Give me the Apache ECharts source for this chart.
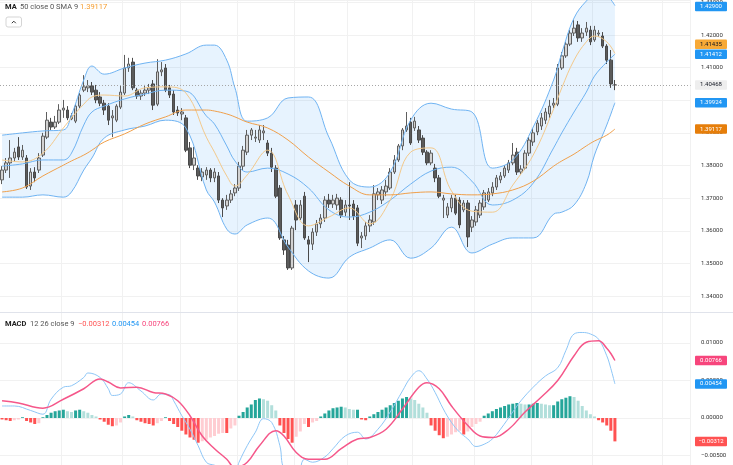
<!DOCTYPE html>
<html>
<head>
<meta charset="utf-8">
<script src="https://cdn.jsdelivr.net/npm/echarts@6.0.0/dist/echarts.min.js"></script>
<style>
html,body{margin:0;padding:0;background:#ffffff;}
#chart{width:733px;height:465px;}
</style>
</head>
<body>
<div id="chart"></div>
<script>
// ---------- data ----------
const slotCount = 169;
const slots = Array.from({length: slotCount}, (_, i) => String(i));
const timeGridSlots = [15, 30, 44, 58, 72, 85, 101, 116, 130, 145, 162];

// [open, close, low, high]
const candles = [
[1.3756,1.3786,1.3743,1.3798],[1.3786,1.3808,1.3777,1.3823],[1.3808,1.3823,1.3762,1.3878],[1.3823,1.3841,1.3811,1.3854],
[1.3857,1.3826,1.3817,1.3887],[1.3826,1.3847,1.3817,1.3863],[1.3823,1.3734,1.3728,1.3832],[1.3737,1.3780,1.3725,1.3792],
[1.3780,1.3762,1.3749,1.3795],[1.3786,1.3823,1.3777,1.3838],[1.3832,1.3890,1.3826,1.3900],[1.3887,1.3939,1.3881,1.3964],
[1.3933,1.3918,1.3909,1.3946],[1.3918,1.3933,1.3912,1.3952],[1.3933,1.3970,1.3927,1.3988],[1.3970,1.3976,1.3946,1.4001],
[1.3970,1.3946,1.3939,1.3982],[1.3943,1.3952,1.3939,1.3961],[1.3936,1.3982,1.3930,1.3988],[1.3982,1.4016,1.3976,1.4022],
[1.4031,1.4041,1.4025,1.4077],[1.4038,1.4044,1.4025,1.4062],[1.4044,1.4025,1.4016,1.4056],[1.4031,1.4001,1.3991,1.4047],
[1.4010,1.3991,1.3982,1.4025],[1.3991,1.3970,1.3955,1.4001],[1.3982,1.3939,1.3924,1.3991],[1.3946,1.3952,1.3887,1.3970],
[1.3939,1.3982,1.3933,1.3988],[1.3979,1.4025,1.3973,1.4044],[1.4022,1.4099,1.4016,1.4139],[1.4099,1.4111,1.4087,1.4130],
[1.4117,1.4038,1.4031,1.4130],[1.4031,1.4013,1.4004,1.4038],[1.4013,1.4022,1.4001,1.4031],[1.4022,1.4031,1.4013,1.4047],
[1.4031,1.4038,1.4019,1.4050],[1.4050,1.3985,1.3970,1.4062],[1.3988,1.4087,1.3982,1.4126],[1.4087,1.4093,1.4074,1.4117],
[1.4099,1.4031,1.4025,1.4111],[1.4038,1.4016,1.4007,1.4047],[1.4019,1.3964,1.3955,1.4031],[1.3970,1.3961,1.3952,1.3982],
[1.3958,1.3964,1.3939,1.3976],[1.3946,1.3847,1.3841,1.3955],[1.3854,1.3801,1.3792,1.3872],[1.3801,1.3823,1.3786,1.3857],
[1.3792,1.3768,1.3756,1.3801],[1.3765,1.3780,1.3752,1.3792],[1.3771,1.3786,1.3756,1.3795],[1.3786,1.3762,1.3749,1.3792],
[1.3762,1.3780,1.3749,1.3792],[1.3768,1.3694,1.3685,1.3780],[1.3694,1.3670,1.3642,1.3700],[1.3676,1.3694,1.3664,1.3710],
[1.3694,1.3713,1.3685,1.3725],[1.3716,1.3731,1.3706,1.3743],[1.3731,1.3798,1.3722,1.3811],[1.3798,1.3847,1.3786,1.3860],
[1.3841,1.3893,1.3832,1.3909],[1.3893,1.3909,1.3878,1.3915],[1.3884,1.3887,1.3872,1.3909],[1.3878,1.3909,1.3869,1.3924],
[1.3900,1.3906,1.3878,1.3924],[1.3869,1.3838,1.3829,1.3878],[1.3838,1.3795,1.3780,1.3854],[1.3792,1.3706,1.3700,1.3801],
[1.3731,1.3578,1.3572,1.3740],[1.3572,1.3541,1.3526,1.3584],[1.3556,1.3486,1.3480,1.3572],[1.3486,1.3608,1.3480,1.3615],
[1.3679,1.3633,1.3602,1.3694],[1.3639,1.3679,1.3633,1.3694],[1.3706,1.3578,1.3572,1.3719],[1.3572,1.3559,1.3504,1.3584],
[1.3559,1.3596,1.3541,1.3608],[1.3596,1.3621,1.3584,1.3633],[1.3621,1.3639,1.3608,1.3651],[1.3639,1.3694,1.3627,1.3706],
[1.3694,1.3682,1.3670,1.3713],[1.3682,1.3694,1.3670,1.3710],[1.3679,1.3700,1.3664,1.3713],[1.3694,1.3648,1.3639,1.3703],
[1.3657,1.3679,1.3645,1.3694],[1.3679,1.3676,1.3633,1.3749],[1.3682,1.3645,1.3633,1.3694],[1.3670,1.3562,1.3553,1.3679],
[1.3578,1.3584,1.3547,1.3596],[1.3584,1.3615,1.3572,1.3627],[1.3615,1.3633,1.3596,1.3648],[1.3627,1.3713,1.3618,1.3740],
[1.3710,1.3719,1.3694,1.3731],[1.3694,1.3725,1.3682,1.3737],[1.3719,1.3737,1.3706,1.3756],[1.3731,1.3780,1.3725,1.3792],
[1.3780,1.3817,1.3774,1.3832],[1.3817,1.3860,1.3811,1.3866],[1.3860,1.3909,1.3847,1.3915],[1.3909,1.3921,1.3903,1.3964],
[1.3933,1.3869,1.3863,1.3946],[1.3915,1.3936,1.3906,1.3949],[1.3909,1.3878,1.3869,1.3921],[1.3884,1.3841,1.3832,1.3893],
[1.3841,1.3808,1.3801,1.3847],[1.3808,1.3838,1.3801,1.3847],[1.3792,1.3762,1.3749,1.3805],[1.3762,1.3706,1.3700,1.3771],
[1.3694,1.3700,1.3639,1.3710],[1.3648,1.3673,1.3639,1.3685],[1.3670,1.3700,1.3657,1.3710],[1.3700,1.3654,1.3648,1.3710],
[1.3694,1.3618,1.3608,1.3703],[1.3664,1.3685,1.3657,1.3694],[1.3685,1.3581,1.3550,1.3694],[1.3611,1.3633,1.3596,1.3645],
[1.3627,1.3664,1.3615,1.3676],[1.3648,1.3685,1.3639,1.3694],[1.3673,1.3716,1.3664,1.3725],[1.3694,1.3719,1.3688,1.3731],
[1.3716,1.3734,1.3706,1.3749],[1.3734,1.3762,1.3725,1.3771],[1.3756,1.3768,1.3746,1.3780],[1.3768,1.3792,1.3762,1.3801],
[1.3786,1.3808,1.3777,1.3817],[1.3808,1.3832,1.3801,1.3869],[1.3841,1.3780,1.3771,1.3854],[1.3780,1.3789,1.3774,1.3801],
[1.3792,1.3838,1.3786,1.3847],[1.3838,1.3878,1.3829,1.3887],[1.3872,1.3900,1.3860,1.3915],[1.3903,1.3930,1.3893,1.3939],
[1.3921,1.3946,1.3909,1.3961],[1.3939,1.3964,1.3927,1.3976],[1.3958,1.3982,1.3946,1.4001],[1.3985,1.3991,1.3976,1.4007],
[1.3988,1.4099,1.3982,1.4111],[1.4099,1.4136,1.4093,1.4148],[1.4136,1.4172,1.4130,1.4179],[1.4172,1.4206,1.4166,1.4215],
[1.4206,1.4221,1.4197,1.4246],[1.4231,1.4191,1.4179,1.4243],[1.4191,1.4206,1.4179,1.4221],[1.4209,1.4221,1.4197,1.4240],
[1.4215,1.4179,1.4169,1.4228],[1.4185,1.4215,1.4179,1.4228],[1.4203,1.4206,1.4194,1.4215],[1.4197,1.4166,1.4160,1.4209],
[1.4166,1.4123,1.4111,1.4172],[1.4123,1.4050,1.4038,1.4154],[1.4047,1.40468,1.4031,1.4062]
];

// indicator samples (bar index -> value)
const lineIdx  = [0,5,10,15,17,20,22,25,30,35,40,45,50,52,55,57,60,65,70,75,80,85,90,95,100,105,110,115,120,125,130,135,137,140,143,145,148,150];
const bbUpper  = [1.3893,1.3900,1.3906,1.3909,1.3955,1.4062,1.4105,1.4080,1.4099,1.4114,1.4123,1.4142,1.4169,1.4169,1.4123,1.4038,1.3936,1.3946,1.4007,1.4010,1.3887,1.3756,1.3734,1.3780,1.3939,1.3991,1.3973,1.3964,1.3792,1.3817,1.3918,1.4062,1.4145,1.4252,1.4304,1.4320,1.4317,1.42900];
const bbMiddle = [1.3798,1.3805,1.3817,1.3817,1.3838,1.3924,1.3964,1.3982,1.4004,1.4019,1.4031,1.4028,1.3952,1.3927,1.3860,1.3814,1.3780,1.3792,1.3774,1.3731,1.3664,1.3642,1.3657,1.3694,1.3743,1.3783,1.3795,1.3752,1.3679,1.3694,1.3746,1.3854,1.3900,1.3964,1.4025,1.4074,1.4117,1.41412];
const bbLower  = [1.3703,1.3703,1.3710,1.3703,1.3719,1.3786,1.3823,1.3884,1.3909,1.3921,1.3939,1.3915,1.3725,1.3688,1.3605,1.3590,1.3618,1.3639,1.3550,1.3477,1.3455,1.3519,1.3547,1.3572,1.3516,1.3547,1.3611,1.3532,1.3559,1.3578,1.3578,1.3651,1.3657,1.3679,1.3746,1.3832,1.3924,1.39924];
const maFast   = [1.3817,1.3811,1.3838,1.3915,1.3946,1.3988,1.4010,1.4016,1.4013,1.4038,1.4041,1.4022,1.3887,1.3841,1.3768,1.3737,1.3771,1.3847,1.3710,1.3615,1.3642,1.3670,1.3621,1.3694,1.3841,1.3854,1.3722,1.3660,1.3657,1.3740,1.3832,1.3973,1.4038,1.4123,1.4179,1.4197,1.4179,1.41435];
const ma50     = [1.3719,1.3731,1.3768,1.3801,1.3814,1.3832,1.3847,1.3872,1.3897,1.3927,1.3949,1.3970,1.3970,1.3967,1.3958,1.3949,1.3933,1.3915,1.3878,1.3826,1.3780,1.3737,1.3710,1.3710,1.3716,1.3719,1.3713,1.3710,1.3713,1.3725,1.3752,1.3798,1.3814,1.3835,1.3860,1.3875,1.3893,1.39117];

const macdHist = [
-0.0002,-0.0003,-0.0004,-0.0003,-0.0002,0.0001,-0.0004,-0.0006,-0.0008,-0.0007,
0.0001,0.0004,0.0007,0.0009,0.0010,0.0011,0.0009,0.0008,0.0010,0.0011,
0.0009,0.0007,0.0004,0.0002,-0.0002,-0.0005,-0.0009,-0.0011,-0.0010,-0.0006,
0.0002,0.0004,0.0002,-0.0003,-0.0005,-0.0007,-0.0008,-0.0010,-0.0007,-0.0004,
0.0001,-0.0004,-0.0008,-0.0012,-0.0017,-0.0022,-0.0026,-0.0029,-0.0033,-0.0031,
-0.0029,-0.0026,-0.0024,-0.0021,-0.0020,-0.0020,-0.0014,-0.0010,0.0003,0.0008,
0.0014,0.0018,0.0024,0.0026,0.0025,0.0023,0.0017,0.0010,-0.0010,-0.0020,
-0.0028,-0.0033,-0.0025,-0.0018,-0.0008,-0.0012,-0.0006,-0.0004,0.0002,0.0006,
0.0010,0.0013,0.0014,0.0015,0.0014,0.0012,0.0011,0.0011,-0.0002,-0.0003,
0.0002,0.0005,0.0008,0.0011,0.0014,0.0017,0.0020,0.0023,0.0026,0.0028,
0.0026,0.0024,0.0019,0.0014,0.0007,-0.0010,-0.0017,-0.0023,-0.0027,-0.0025,
-0.0022,-0.0019,-0.0017,-0.0022,-0.0018,-0.0012,-0.0008,-0.0005,0.0003,0.0006,
0.0009,0.0012,0.0014,0.0016,0.0018,0.0019,0.0020,0.0019,0.0018,0.0018,
0.0019,0.0020,0.0019,0.0018,0.0017,0.0017,0.0022,0.0025,0.0027,0.0029,
0.0028,0.0023,0.0016,0.0010,0.0005,0.0002,-0.0003,-0.0006,-0.0010,-0.0017,
-0.00312
];
const macdLine = [[0,0.0016],[3,0.0016],[7,0.0010],[10,0.0005],[12,0.0025],[15,0.0041],[17,0.0043],[20,0.0054],[21,0.0060],[24,0.0054],[26,0.0039],[27,0.0030],[29,0.0032],[31,0.0047],[34,0.0036],[37,0.0024],[39,0.0032],[41,0.0031],[42,0.0023],[44,0.0003],[46,-0.0015],[48,-0.0037],[50,-0.0059],[52,-0.0063],[55,-0.0068],[57,-0.0072],[58,-0.0059],[60,-0.0037],[62,-0.0019],[64,-0.0001],[66,-0.0006],[68,-0.0037],[69,-0.0068],[72,-0.0085],[74,-0.0055],[76,-0.0059],[79,-0.0052],[81,-0.0041],[84,-0.0024],[87,-0.0019],[89,-0.0028],[92,-0.0015],[95,0.0008],[98,0.0036],[100,0.0054],[102,0.0063],[104,0.0052],[106,0.0034],[108,0.0012],[110,-0.0006],[112,-0.0019],[114,-0.0028],[116,-0.0038],[118,-0.0035],[120,-0.0028],[122,-0.0015],[125,0.0008],[127,0.0023],[130,0.0041],[133,0.0056],[136,0.0067],[138,0.0090],[140,0.0112],[142,0.0114],[144,0.0112],[146,0.0105],[148,0.0083],[149,0.0066],[150,0.00454]];
const signalLine = [[0,0.0023],[4,0.0020],[10,0.0013],[15,0.0025],[20,0.0039],[24,0.0052],[26,0.0048],[29,0.0040],[33,0.0041],[37,0.0034],[40,0.0032],[43,0.0023],[46,0.0003],[49,-0.0024],[52,-0.0041],[55,-0.0055],[57,-0.0066],[60,-0.0059],[63,-0.0037],[67,-0.0017],[69,-0.0024],[72,-0.0046],[75,-0.0055],[79,-0.0055],[83,-0.0041],[87,-0.0028],[90,-0.0026],[94,-0.0015],[98,0.0012],[102,0.0041],[104,0.0047],[107,0.0039],[110,0.0016],[114,-0.0010],[117,-0.0024],[120,-0.0026],[124,-0.0015],[128,0.0008],[132,0.0028],[136,0.0050],[140,0.0083],[143,0.0101],[146,0.0103],[148,0.0093],[149,0.0086],[150,0.00766]];

// ---------- chart ----------
const FONT = 'Roboto, "Noto Sans", sans-serif';
const GRID_W = 690.5;
const C = {
  bb: '#6fb3f2', bbFill: 'rgba(33,150,243,0.11)', fast: '#f3c98b', slow: '#f0a04b',
  macd: '#8ec6f6', signal: '#f5578a', grid: '#f1f1f1', text: '#333333'
};
const pair = (idx, arr) => idx.map((x, i) => [x, arr[i]]);
const histColors = macdHist.map((v, i) => {
  const p = i > 0 ? macdHist[i - 1] : 0;
  if (v >= 0) return v >= p ? '#26a69a' : '#b2dfdb';
  return v <= p ? '#ff5252' : '#ffcdd2';
});
const fmt = v => (Math.abs(v) < 1e-9 ? '0.00000' : (v < 0 ? '\u2212' : '') + Math.abs(v).toFixed(5));
const lastClose = candles[candles.length - 1][1];

const chart = echarts.init(document.getElementById('chart'), null, {renderer: 'canvas'});
const xAxisFor = g => ({
  type: 'category', gridIndex: g, data: slots, boundaryGap: true,
  axisLine: {show: false}, axisTick: {show: false}, axisLabel: {show: false},
  splitLine: {show: true, interval: (i) => timeGridSlots.indexOf(i) >= 0, lineStyle: {color: C.grid, width: 1}}
});
const yLabel = {margin: 10.5, fontSize: 6, fontFamily: FONT, color: C.text, showMinLabel: false, showMaxLabel: false, formatter: fmt};
const lineBase = {type: 'line', symbol: 'none', showSymbol: false, smooth: 0.4, silent: true};

const option = {
  animation: false,
  backgroundColor: '#ffffff',
  grid: [
    {left: 0, top: 0, width: GRID_W, height: 312, outerBoundsMode: 'none', containLabel: false},
    {left: 0, top: 312, width: GRID_W, height: 153, outerBoundsMode: 'none', containLabel: false}
  ],
  xAxis: [xAxisFor(0), xAxisFor(1)],
  yAxis: [
    {type: 'value', gridIndex: 0, position: 'right', min: 1.33510, max: 1.43073, splitNumber: 10,
     axisLine: {show: false}, axisTick: {show: false}, splitLine: {lineStyle: {color: C.grid}}, axisLabel: yLabel},
    {type: 'value', gridIndex: 1, position: 'right', min: -0.00627, max: 0.01413, splitNumber: 4,
     axisLine: {show: false}, axisTick: {show: false}, splitLine: {lineStyle: {color: C.grid}}, axisLabel: yLabel}
  ],
  series: [
    Object.assign({}, lineBase, {name: 'bbFillBase', xAxisIndex: 0, yAxisIndex: 0, stack: 'bbfill', z: 1,
      data: pair(lineIdx, bbLower), lineStyle: {opacity: 0}}),
    Object.assign({}, lineBase, {name: 'bbFill', xAxisIndex: 0, yAxisIndex: 0, stack: 'bbfill', z: 1,
      data: lineIdx.map((x, i) => [x, bbUpper[i] - bbLower[i]]), lineStyle: {opacity: 0}, areaStyle: {color: C.bbFill, opacity: 1}}),
    {type: 'candlestick', name: 'price', xAxisIndex: 0, yAxisIndex: 0, z: 2, barWidth: 3, data: candles, silent: true,
      itemStyle: {color: '#d2d2d2', color0: '#5b5b5b', borderColor: '#5e5e5e', borderColor0: '#4a4a4a', borderWidth: 1}},
    Object.assign({}, lineBase, {name: 'bbUpper', xAxisIndex: 0, yAxisIndex: 0, z: 3, data: pair(lineIdx, bbUpper), lineStyle: {color: C.bb, width: 1}}),
    Object.assign({}, lineBase, {name: 'bbLower', xAxisIndex: 0, yAxisIndex: 0, z: 3, data: pair(lineIdx, bbLower), lineStyle: {color: C.bb, width: 1}}),
    Object.assign({}, lineBase, {name: 'bbMiddle', xAxisIndex: 0, yAxisIndex: 0, z: 3, data: pair(lineIdx, bbMiddle), lineStyle: {color: C.bb, width: 1}}),
    Object.assign({}, lineBase, {name: 'maFast', xAxisIndex: 0, yAxisIndex: 0, z: 3, data: pair(lineIdx, maFast), lineStyle: {color: C.fast, width: 1}}),
    Object.assign({}, lineBase, {name: 'ma50', xAxisIndex: 0, yAxisIndex: 0, z: 3, data: pair(lineIdx, ma50), lineStyle: {color: C.slow, width: 1},
      markLine: {symbol: ['none', 'none'], silent: true, precision: 6, label: {show: false},
        lineStyle: {color: '#a6a6a6', type: [1, 2], width: 1}, data: [{yAxis: lastClose}]}}),
    {type: 'bar', name: 'hist', xAxisIndex: 1, yAxisIndex: 1, barWidth: 3, silent: true, z: 2,
      data: macdHist.map((v, i) => ({value: v, itemStyle: {color: histColors[i]}}))},
    Object.assign({}, lineBase, {name: 'macd', xAxisIndex: 1, yAxisIndex: 1, z: 3, data: macdLine, lineStyle: {color: C.macd, width: 1}}),
    Object.assign({}, lineBase, {name: 'signal', xAxisIndex: 1, yAxisIndex: 1, z: 4, data: signalLine, lineStyle: {color: C.signal, width: 1.5}})
  ]
};
chart.setOption(option);

// ---------- price tags & legends ----------
function tags(list, axisIdx, minY) {
  list.forEach(t => { t.y = chart.convertToPixel({yAxisIndex: axisIdx}, t.v); });
  list.sort((a, b) => a.y - b.y);
  for (let i = list.length - 2; i >= 0; i--) {
    if (list[i].y > list[i + 1].y - 10) list[i].y = list[i + 1].y - 10;
  }
  list.forEach(t => { t.y = Math.max(minY, t.y); });
  const out = [];
  list.forEach(t => {
    out.push({type: 'rect', z: 100, shape: {x: GRID_W + 4.5, y: t.y - 4.75, width: 32, height: 9.5, r: 1}, style: {fill: t.bg}});
    out.push({type: 'text', z: 101, x: GRID_W + 20.5, y: t.y,
      style: {text: fmt(t.v), fill: t.fg, font: '6px ' + FONT, align: 'center', verticalAlign: 'middle', textAlign: 'center', textVerticalAlign: 'middle'}});
  });
  return out;
}
const last = a => a[a.length - 1];
const priceTags = tags([
  {v: last(bbUpper), bg: '#2196f3', fg: '#ffffff'},
  {v: last(maFast), bg: '#f7a937', fg: '#131722'},
  {v: last(bbMiddle), bg: '#2196f3', fg: '#ffffff'},
  {v: lastClose, bg: '#eeeeee', fg: '#131722'},
  {v: last(bbLower), bg: '#2196f3', fg: '#ffffff'},
  {v: last(ma50), bg: '#e67e0a', fg: '#ffffff'}
], 0, 6.5);
const macdTags = tags([
  {v: last(signalLine)[1], bg: '#f7457c', fg: '#ffffff'},
  {v: last(macdLine)[1], bg: '#2196f3', fg: '#ffffff'},
  {v: last(macdHist), bg: '#ff5252', fg: '#ffffff'}
], 1, 318);

function txt(x, y, s, color, weight) {
  return {type: 'text', z: 100, x: x, y: y,
    style: {text: s, fill: color, font: (weight || 'normal') + ' 7.5px ' + FONT, align: 'left', verticalAlign: 'middle', textAlign: 'left', textVerticalAlign: 'middle'}};
}
const legend = [
  txt(5, 7.5, 'MA', '#222222', 'bold'),
  txt(20, 7.5, '50 close 0 SMA 9', '#555555'),
  txt(80, 7.5, fmt(last(ma50)), '#f59c2e'),
  {type: 'rect', z: 100, shape: {x: 6, y: 17, width: 15.5, height: 10, r: 2}, style: {fill: '#ffffff', stroke: '#d5d5d5', lineWidth: 1}},
  {type: 'polyline', z: 101, shape: {points: [[11.8, 23.2], [13.8, 21.2], [15.8, 23.2]]}, style: {stroke: '#333333', lineWidth: 1, fill: null}},
  txt(5, 324, 'MACD', '#222222', 'bold'),
  txt(30, 324, '12 26 close 9', '#555555'),
  txt(78, 324, fmt(last(macdHist)), '#ff5252'),
  txt(112, 324, fmt(last(macdLine)[1]), '#2196f3'),
  txt(142, 324, fmt(last(signalLine)[1]), '#f7457c'),
  {type: 'line', z: 50, shape: {x1: 0, y1: 312.5, x2: 733, y2: 312.5}, style: {stroke: '#e0e3eb', lineWidth: 1}}
];
chart.setOption({graphic: {elements: legend.concat(priceTags, macdTags)}});
</script>
</body>
</html>
